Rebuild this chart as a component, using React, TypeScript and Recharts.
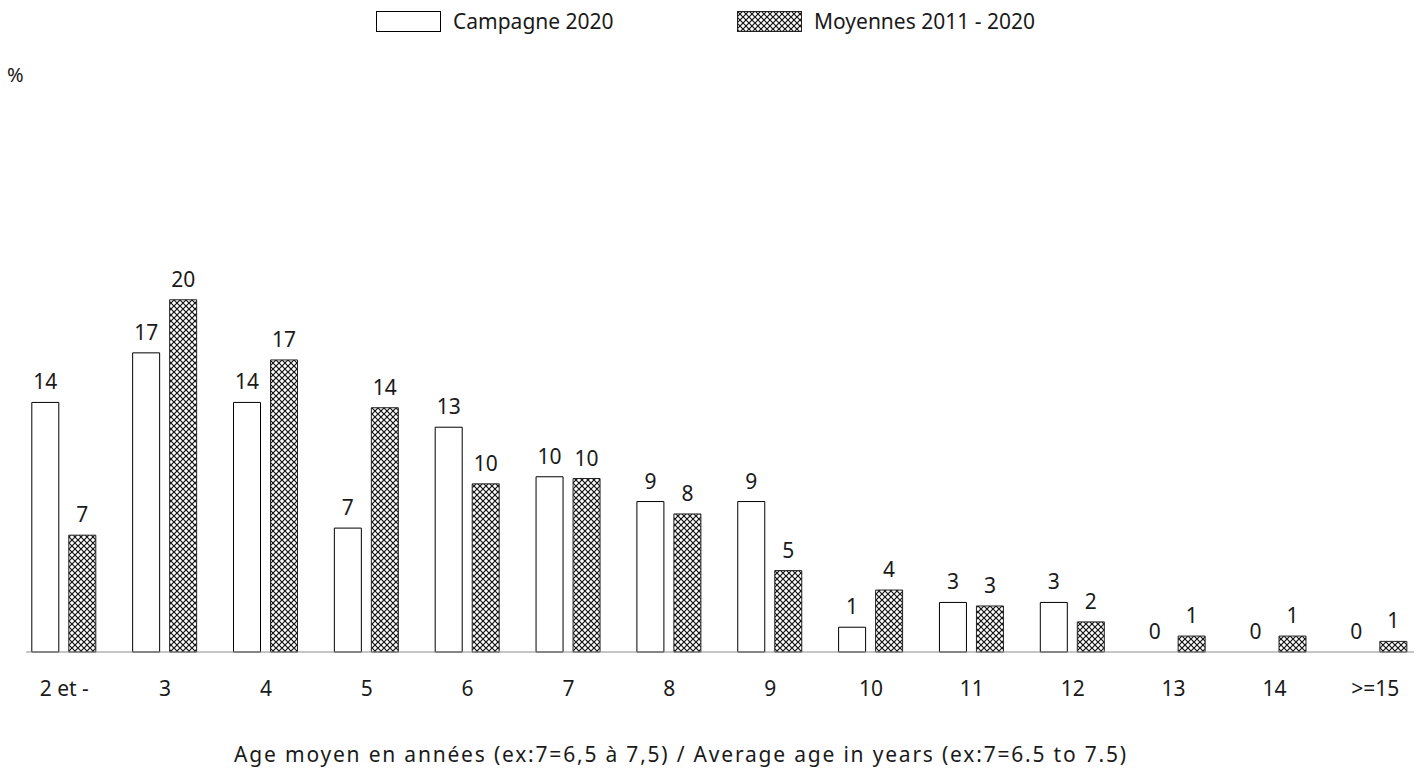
import { BarChart, Bar, XAxis, YAxis, LabelList, Legend, Rectangle } from "recharts";

// age classes (years)
const categories = ["2 et -", "3", "4", "5", "6", "7", "8", "9", "10", "11", "12", "13", "14", ">=15"];
// % share (labels show rounded values)
const campagne2020 = [14.1, 16.9, 14.1, 7.0, 12.7, 9.9, 8.5, 8.5, 1.4, 2.8, 2.8, 0, 0, 0];
const moyennes2011_2020 = [6.6, 19.9, 16.5, 13.8, 9.5, 9.8, 7.8, 4.6, 3.5, 2.6, 1.7, 0.9, 0.9, 0.6];

const seriesNames = ["Campagne 2020", "Moyennes 2011 - 2020"];
const axisTitle = "Age moyen en années (ex:7=6,5 à 7,5) / Average age in years (ex:7=6.5 to 7.5)";
const unitLabel = "%";

const FONT = "'Noto Sans', 'Open Sans', sans-serif";
const TEXT = "#1a1a1a";

const HatchPattern = ({ id }: { id: string }) => (
  <pattern id={id} width={6} height={6} patternUnits="userSpaceOnUse">
    <rect width={6} height={6} fill="#fff" />
    <path d="M0,0 L6,6 M6,0 L0,6" stroke="#111" strokeWidth={1.2} />
  </pattern>
);

const roundLabel = (v: any) => String(Math.round(Number(v)));

// zero values keep their label but draw no rectangle
const HideEmptyBar = (props: any) => {
  if (!props.height || Math.abs(props.height) < 0.5) return <g />;
  return <Rectangle {...props} />;
};

const renderLegend = (props: any) => {
  const payload = props.payload || [];
  return (
    <div style={{ display: "flex", alignItems: "center", paddingLeft: 376, paddingTop: 11, fontFamily: FONT, fontSize: 21, color: TEXT }}>
      {payload.map((entry: any, i: number) => (
        <div key={entry.value} style={{ display: "flex", alignItems: "center", width: i === 0 ? 361 : "auto" }}>
          <svg width={65} height={21} style={{ display: "block" }}>
            <defs>
              <HatchPattern id="legendHatch" />
            </defs>
            <rect
              x={0.5}
              y={0.5}
              width={64}
              height={20}
              fill={i === 0 ? "#fff" : "url(#legendHatch)"}
              stroke={i === 0 ? "#000" : "#222"}
            />
          </svg>
          <span style={{ marginLeft: 12, lineHeight: "21px" }}>{entry.value}</span>
        </div>
      ))}
    </div>
  );
};

const App = () => {
  const data = categories.map((cat, i) => ({
    cat,
    campagne: campagne2020[i],
    moyennes: moyennes2011_2020[i],
  }));

  return (
    <div style={{ position: "absolute", left: 0, top: 0, width: 1419, height: 771, overflow: "hidden", background: "#fff", fontFamily: FONT }}>
      <div style={{ position: "absolute", left: 7, top: 61, fontSize: 20, color: TEXT }}>{unitLabel}</div>
      <BarChart
        width={1419}
        height={771}
        data={data}
        margin={{ top: 209.5, right: 5, bottom: 0, left: 26 }}
        barSize={27}
        barGap={10}
      >
        <defs>
          <HatchPattern id="crosshatch" />
        </defs>
        <XAxis
          dataKey="cat"
          height={119}
          interval={0}
          tickLine={false}
          tickSize={0}
          tickMargin={29}
          axisLine={{ stroke: "#8c8c8c", strokeWidth: 1 }}
          tick={{ fill: TEXT, fontSize: 21 }}
          padding={{ left: -12.2, right: -11.7 }}
          label={{
            value: axisTitle,
            position: "insideBottom",
            offset: 9,
            dx: -39,
            fill: TEXT,
            fontSize: 21,
            style: { letterSpacing: "1.8px" },
          }}
        />
        <YAxis hide domain={[0, 25]} />
        <Legend
          layout="horizontal"
          verticalAlign="middle"
          align="center"
          wrapperStyle={{ top: 0, left: 0, width: 1419, height: 45 }}
          content={renderLegend}
        />
        <Bar
          dataKey="campagne"
          name={seriesNames[0]}
          fill="#fff"
          stroke="#000"
          strokeWidth={1}
          minPointSize={0.1}
          shape={HideEmptyBar}
          isAnimationActive={false}
        >
          <LabelList dataKey="campagne" position="top" offset={13} formatter={roundLabel} fill={TEXT} fontSize={21} />
        </Bar>
        <Bar dataKey="moyennes" name={seriesNames[1]} fill="url(#crosshatch)" stroke="#222" strokeWidth={1} isAnimationActive={false}>
          <LabelList dataKey="moyennes" position="top" offset={13} formatter={roundLabel} fill={TEXT} fontSize={21} />
        </Bar>
      </BarChart>
    </div>
  );
};

export default App;
